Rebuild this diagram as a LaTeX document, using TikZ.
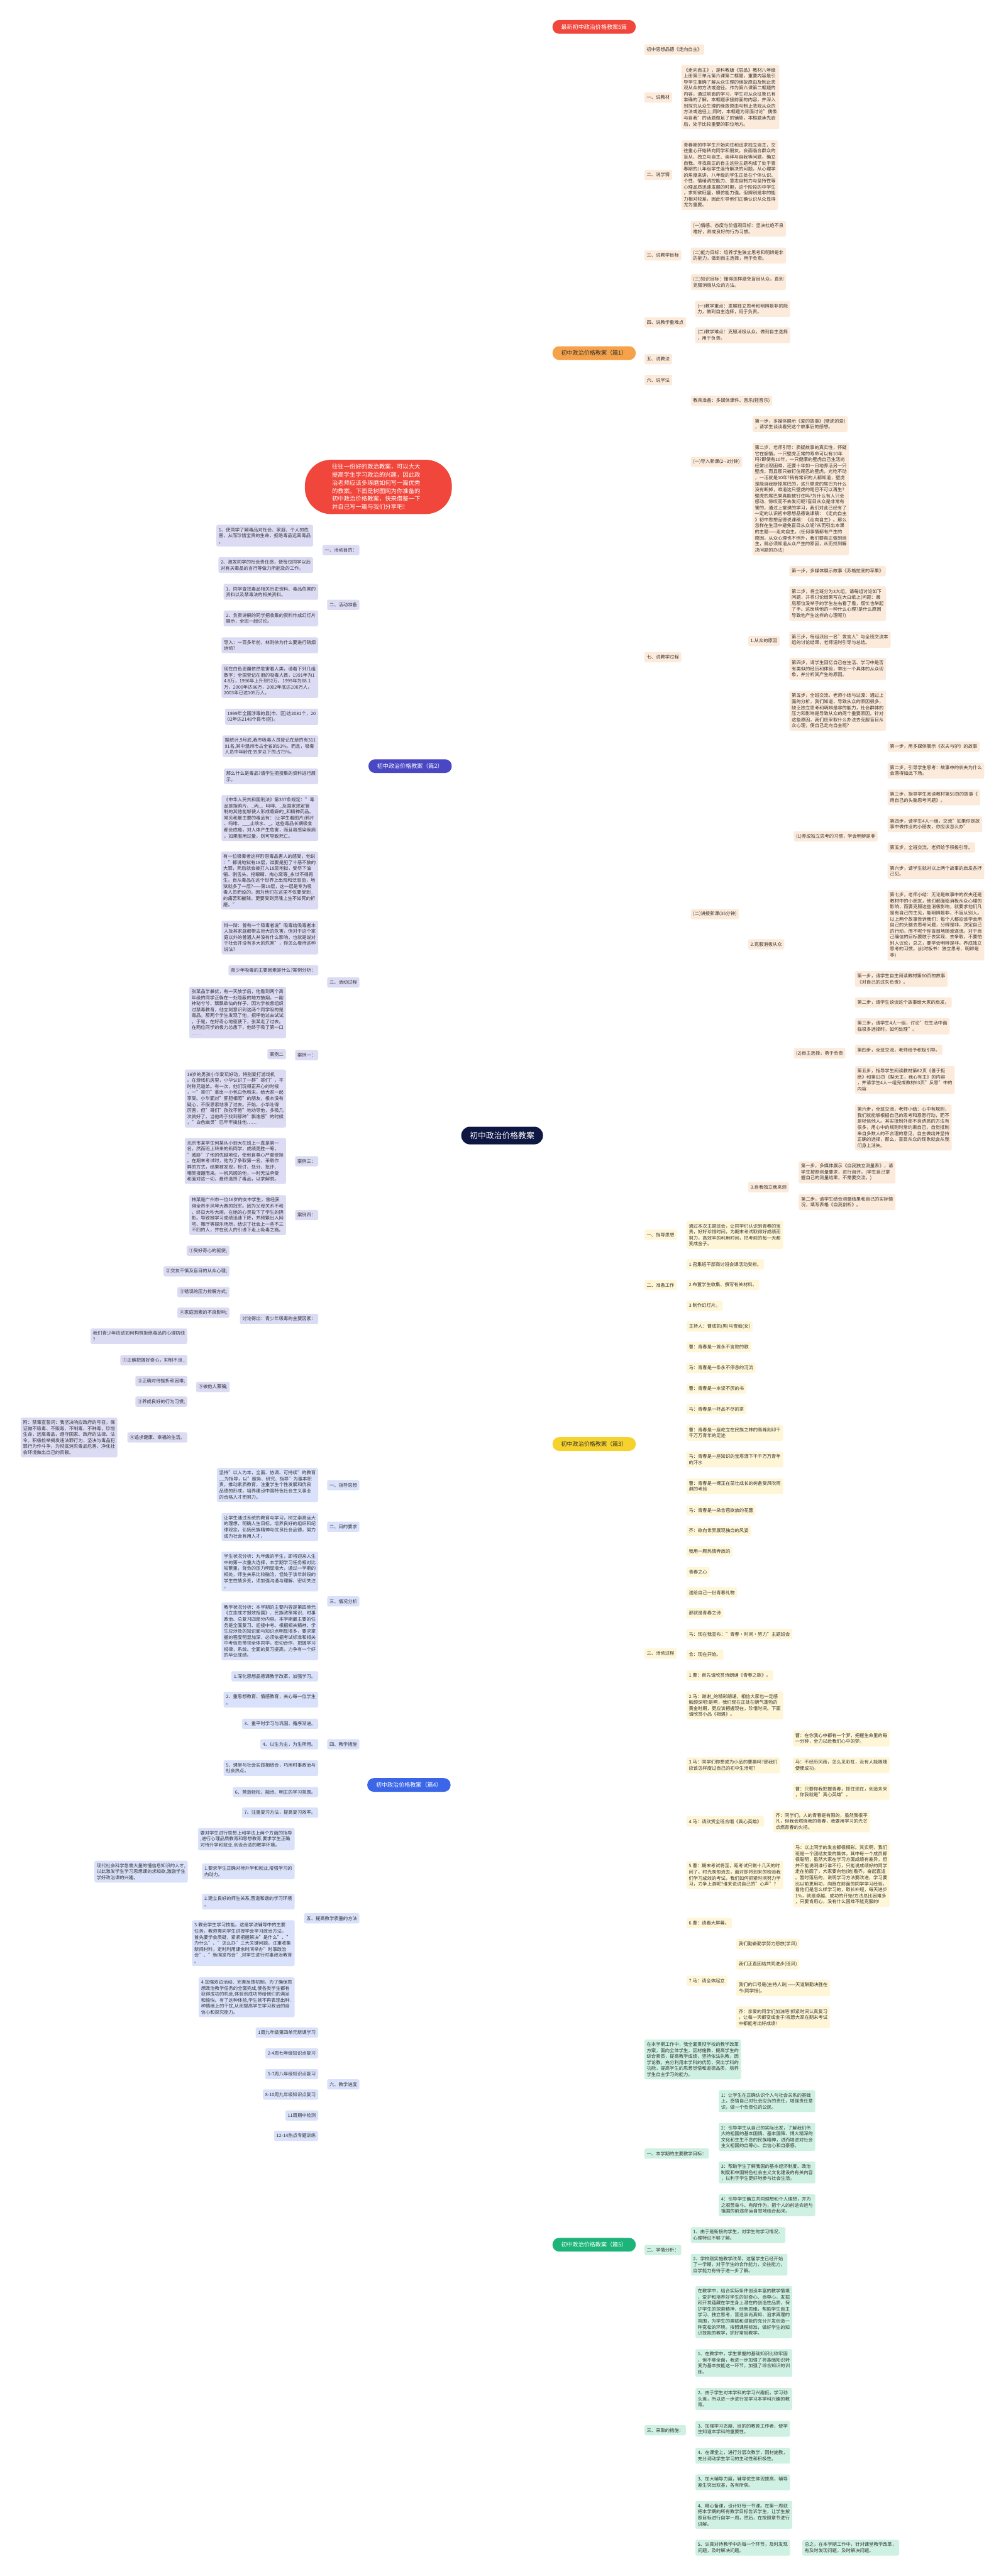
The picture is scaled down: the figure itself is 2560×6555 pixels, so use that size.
\documentclass[tikz,border=0pt]{standalone}
\usepackage{fontspec}
\setmainfont{Noto Sans CJK SC}
\usetikzlibrary{calc}
\pgfdeclarelayer{bg}
\pgfsetlayers{bg,main}
\definecolor{txt}{HTML}{333333}
\definecolor{redR}{HTML}{F0463B}
\definecolor{redL}{HTML}{D9372C}
\definecolor{cenF}{HTML}{0E1642}
\definecolor{orR}{HTML}{F5A24A}
\definecolor{orL}{HTML}{E5A04A}
\definecolor{orF}{HTML}{FCEBDB}
\definecolor{yeR}{HTML}{F6D22C}
\definecolor{yeL}{HTML}{EFCB26}
\definecolor{yeF}{HTML}{FEF6D6}
\definecolor{grR}{HTML}{1DB47A}
\definecolor{grL}{HTML}{179C68}
\definecolor{grF}{HTML}{CFF1E3}
\definecolor{puR}{HTML}{4A47C4}
\definecolor{puL}{HTML}{2B2A86}
\definecolor{puF}{HTML}{DCDBF4}
\definecolor{blR}{HTML}{3B66E8}
\definecolor{blL}{HTML}{2E4FC4}
\definecolor{blF}{HTML}{DAE2FB}
\newcommand\conR[2]{\draw (#1.east) -- ($(#1.east)!0.5!(#1.east -| #2.west)$) |- (#2.west);}
\newcommand\conL[2]{\draw (#1.west) -- ($(#1.west)!0.5!(#1.west -| #2.east)$) |- (#2.east);}
\tikzset{
 nd/.style={font=\fontsize{11.7}{15.3}\selectfont, text=txt, rounded corners=4pt, inner xsep=6pt, inner ysep=7pt, align=left, minimum height=26pt},
 on/.style={nd, fill=orF, anchor=west},
 yn/.style={nd, fill=yeF, anchor=west},
 gn/.style={nd, fill=grF, anchor=west},
 pn/.style={nd, fill=puF, anchor=east},
 bn/.style={nd, fill=blF, anchor=east},
 rootn/.style={font=\fontsize{14.5}{17}\selectfont, rounded corners=17pt, minimum width=212pt, minimum height=35pt, inner sep=3pt},
 cloudn/.style={fill=redR, text=white, font=\fontsize{15}{20.4}\selectfont, align=left, text width=236pt, minimum width=374pt, minimum height=138pt, rounded corners=66pt, inner sep=0pt},
 cen/.style={fill=cenF, text=white, font=\fontsize{20.5}{24}\selectfont, rounded corners=22pt, minimum width=208pt, minimum height=45pt},
 mainline/.style={line width=2pt},
 subline/.style={line width=1.8pt, rounded corners=7pt}
}
\begin{document}
\begin{tikzpicture}[x=1pt,y=-1pt]
\fill[white] (0,0) rectangle (2560,6555);
\useasboundingbox (0,0) rectangle (2560,6555);

% centre, title, intro
\node[cen] (C) at (1278,2889.5) {初中政治价格教案};
\node[rootn, fill=redR, text=white, anchor=west] (T) at (1406,68.5) {最新初中政治价格教案5篇};
\node[cloudn] (Q) at (963,1239) {往往一份好的政治教案，可以大大\\提高学生学习政治的兴趣，因此政\\治老师应该多琢磨如何写一篇优秀\\的教案。下面是树图网为你准备的\\初中政治价格教案，快来借鉴一下\\并自己写一篇与我们分享吧！};

% ---------------- 篇1 ----------------
\node[rootn, fill=orR, text=txt, anchor=west] (R1) at (1406,898.5) {初中政治价格教案（篇1）};
\node[on] (a1) at (1640,126) {初中思想品德《走向自主》};
\node[on] (a2) at (1640,248) {一、说教材};
\node[on] (a3) at (1640,445) {二、说学情};
\node[on] (a4) at (1640,650) {三、说教学目标};
\node[on] (a5) at (1640,820) {四、说教学重难点};
\node[on] (a6) at (1640,914) {五、说教法};
\node[on] (a7) at (1640,967) {六、说学法};
\node[on] (a8) at (1640,1672.5) {七、说教学过程};
\node[on] (a2c) at (1734,247) {《走向自主》，是科教版《思品》教材八年级\\上册第三单元第六课第二框题，重要内容是引\\导学生准确了解从众生理的缘故原由及制止悲\\观从众的方法或途径。作为第六课第二框题的\\内容，通过前面的学习，学生对从众征象已有\\准确的了解，本框题承接前面的内容，并深入\\到探究从众生理的缘故原由与制止悲观从众的\\方法或途径上;同时，本框题为背面讨论"偶像\\与自我"的话题做足了的铺垫，本框题承先启\\后，处于比较重要的职位地方。};
\node[on] (a3c) at (1734,445.5) {青春期的中学生开始向往和追求独立自主，交\\往重心开始转向同学和朋友，会面临合群众的\\盲从、独立与自主、崇拜与自我等问题，确立\\自我、寻找真正的自主这些主题构成了处于青\\春期的八年级学生亟待解决的问题。从心理学\\的角度来讲，八年级的学生正处在个体认识、\\个性、情绪调控能力、意志自制力与坚持性等\\心理品质迅速发展的时期，这个阶段的中学生\\，求知欲旺盛，模仿能力强，但辨别是非的能\\力相对较差，因此引导他们正确认识从众显得\\尤为重要。};
\node[on] (a4c1) at (1758,582) {(一)情感、态度与价值观目标：坚决杜绝不良\\嗜好，养成良好的行为习惯。};
\node[on] (a4c2) at (1758,650) {(二)能力目标：培养学生独立思考和明辨是非\\的能力，做到自主选择，用于负责。};
\node[on] (a4c3) at (1758,718) {(三)知识目标：懂得怎样避免盲目从众，直到\\克服消极从众的方法。};
\node[on] (a5c1) at (1769,786) {(一)教学重点：发展独立思考和明辨是非的能\\力，做到自主选择，用于负责。};
\node[on] (a5c2) at (1769,853) {(二)教学难点：克服消极从众，做到自主选择\\，用于负责。};
\node[on] (a8c1) at (1758,1020) {教具准备：多媒体课件、音乐(轻音乐)};
\node[on] (a8c2) at (1758,1175.5) {(一)导入新课(2-{}-3分钟)};
\node[on] (a8c3) at (1758,2326) {(二)讲授新课(35分钟)};
\node[on] (b1) at (1915,1079) {第一步，多媒体展示《爱的故事》(壁虎的爱)\\，请学生谈谈看完这个故事后的感想。};
\node[on] (b2) at (1915,1270) {第二步，老师引导：质疑故事的真实性，怀疑\\它在煽情。一只壁虎正常的寿命可以有10年\\吗?即使有10年，一只健康的壁虎自己生活尚\\经常出现困难，还要十年如一日地养活另一只\\壁虎，而且那只被钉住尾巴的壁虎，光吃不动\\，一活就是10年?稍有常识的人都知道，壁虎\\是能自我断掉尾巴的，这只壁虎的尾巴为什么\\没有断掉，难道这只壁虎的尾巴不可以再生?\\壁虎的尾巴果真能被钉住吗?为什么有人只会\\感动、惊叹而不去发问呢?盲目从众是非常有\\害的，通过上堂课的学习，我们对此已经有了\\一定的认识初中思想品德说课稿：《走向自主\\》初中思想品德说课稿：《走向自主》。那么\\怎样在生活中避免盲目从众呢?从而引出本课\\的主题——走向自主。(任何事情都有产生的\\原因，从众心理也不例外，我们要真正做到自\\主，就必须知道从众产生的原因，从而找到解\\决问题的办法)};
\node[on] (c1) at (1904,1631) {1.从众的原因};
\node[on] (c2) at (1904,2403) {2.克服消极从众};
\node[on] (c3) at (1904,3021) {3.自我独立我来测};
\node[on] (d1) at (2009,1453.5) {第一步，多媒体展示故事《苏格拉底的苹果》};
\node[on] (d2) at (2009,1536) {第二步，将全班分为3大组，请每组讨论如下\\问题，并将讨论结果写在大白纸上(问题：最\\后那位没举手的学生左右看了看，慌忙也举起\\了手。这反映他的一种什么心理?是什么原因\\导致他产生这样的心理呢?)};
\node[on] (d3) at (2009,1628) {第三步，每组派出一名"发言人"与全班交流本\\组的讨论结果，老师适时引导与总结。};
\node[on] (d4) at (2009,1702) {第四步，请学生回忆自己在生活、学习中是否\\有类似的经历和体验，举出一个具体的从众现\\象，并分析其产生的原因。};
\node[on] (d5) at (2009,1808.5) {第五步，全班交流，老师小结与过渡：通过上\\面的分析，我们知道，导致从众的原因很多，\\缺乏独立思考和明辨是非的能力，社会群体的\\压力和影响是导致从众的两个重要原因。针对\\这些原因，我们应采取什么办法去克服盲目从\\众心理，使自己走向自主呢?};
\node[on] (e1) at (2020,2128) {(1)养成独立思考的习惯，学会明辨是非};
\node[on] (e2) at (2020,2680) {(2)自主选择，勇于负责};
\node[on] (f1) at (2259,1900) {第一步，用多媒体展示《农夫与驴》的故事};
\node[on] (f2) at (2259,1961) {第二步，引导学生思考：故事中的农夫为什么\\会落得如此下场。};
\node[on] (f3) at (2259,2029) {第三步，指导学生阅读教材第58页的故事《\\用自己的头脑思考问题》。};
\node[on] (f4) at (2259,2097) {第四步，请学生4人一组，交流"如果你是故\\事中做作业的小朋友，你应该怎么办"};
\node[on] (f5) at (2259,2156.5) {第五步，全班交流，老师给予积极引导。};
\node[on] (f6) at (2259,2217) {第六步，请学生就对以上两个故事的启发各抒\\己见。};
\node[on] (f7) at (2259,2354.5) {第七步，老师小结：无论是故事中的农夫还是\\教材中的小朋友，他们都面临消极从众心理的\\影响，而要克服这些消极影响，就要求他们凡\\是有自己的主见，能明辨是非，不盲从别人。\\以上两个故事告诉我们：每个人都应该学会用\\自己的头脑去思考问题，分辨是非，决定自己\\的行动，而不呢个你盲目地随波逐流。对于自\\己确信的目标要敢于去实现、去争取，不要怕\\别人议论，总之，要学会明辨是非，养成独立\\思考的习惯。(此时板书：独立思考、明辨是\\非)};
\node[on] (g1) at (2176,2491) {第一步，请学生自主阅读教材第60页的故事\\《对自己的过失负责》。};
\node[on] (g2) at (2176,2551) {第二步，请学生谈谈这个故事给大家的启发。};
\node[on] (g3) at (2176,2611.5) {第三步，请学生4人一组，讨论"在生活中面\\临很多选择时，如何处理"。};
\node[on] (g4) at (2176,2671.5) {第四步，全班交流，老师给予积极引导。};
\node[on] (g5) at (2176,2748) {第五步，指导学生阅读教材第62页《善于拒\\绝》和第63页《梨无主，我心有主》的内容\\，并请学生4人一组完成教材63页"反思"中的\\内容};
\node[on] (g6) at (2176,2869) {第六步，全班交流，老师小结：心中有规则，\\我们就能够根据自己的思考和意愿行动，而不\\是轻信他人。其实抵制外部不良诱惑的方法有\\很多，用心中的规则时常约束自己，自觉抵制\\来自多数人的不合理的意见，自主做出并坚持\\正确的选择，那么，盲目从众的现象就会从我\\们身上消失。};
\node[on] (h1) at (2033,2983) {第一步，多媒体展示《自我独立测量表》，请\\学生按照测量要求，进行自评。(学生自己掌\\握自己的测量结果，不需要交流。)};
\node[on] (h2) at (2033,3059) {第二步，请学生结合测量结果和自己的实际情\\况，填写表格《自我剖析》。};

% ---------------- 篇3 ----------------
\node[rootn, fill=yeR, text=txt, anchor=west] (R3) at (1406,3674.5) {初中政治价格教案（篇3）};
\node[yn] (y1) at (1640,3142) {一、指导思想};
\node[yn] (y2) at (1640,3270) {二、准备工作};
\node[yn] (y3) at (1640,4207.5) {三、活动过程};
\node[yn] (y1c) at (1747,3142.5) {通过本次主题班会，让同学们认识到青春的宝\\贵，好好珍惜时间，为期末考试取得好成绩而\\努力，高效率的利用时间，把考前的每一天都\\变成金子。};
\node[yn] (y2a) at (1747,3217.5) {1.召集班干部商讨班会课活动安排。};
\node[yn] (y2b) at (1747,3269.5) {2.布置学生收集、撰写有关材料。};
\node[yn] (y2c) at (1747,3322.5) {3.制作幻灯片。};
\node[yn] (k1) at (1747,3375.5) {主持人：曹成凯(男)马雪茹(女)};
\node[yn] (k2) at (1747,3428) {曹：青春是一首永不言败的歌};
\node[yn] (k3) at (1747,3480.5) {马：青春是一条永不停息的河流};
\node[yn] (k4) at (1747,3533) {曹：青春是一本读不厌的书};
\node[yn] (k5) at (1747,3586) {马：青春是一杯品不尽的茶};
\node[yn] (k6) at (1747,3646) {曹：青春是一座屹立在民族之林的高峰刻印千\\千万万青年的足迹};
\node[yn] (k7) at (1747,3714) {马：青春是一座知识的宝塔洒下千千万万青年\\的汗水};
\node[yn] (k8) at (1747,3782) {曹：青春是一棵正在茁壮成长的树备受风吹雨\\淋的考验};
\node[yn] (k9) at (1747,3843) {马：青春是一朵含苞欲放的花蕾};
\node[yn] (k10) at (1747,3895) {齐：欲向世界展现独自的风姿};
\node[yn] (k11) at (1747,3947.5) {我用一颗热情奔放的};
\node[yn] (k12) at (1747,4000.5) {青春之心};
\node[yn] (k13) at (1747,4052.5) {送给自己一份青春礼物};
\node[yn] (k14) at (1747,4105) {那就是青春之诗};
\node[yn] (k15) at (1747,4158) {马：现在我宣布："青春·时间·努力"主题班会};
\node[yn] (k16) at (1747,4210.5) {合：现在开始。};
\node[yn] (k17) at (1747,4263.5) {1.曹：首先请欣赏诗朗诵《青春之歌》。};
\node[yn] (k18) at (1747,4339.5) {2.马：谢谢\_的精彩朗诵，相信大家也一定感\\触颇深吧!是啊，我们现在正处在朝气蓬勃的\\黄金时期，更应该把握现在，珍惜时间。下面\\请欣赏小品《相遇》。};
\node[yn] (k19) at (1747,4492) {3.马：同学们你想成为小品的曹晨吗?那我们\\应该怎样度过自己的初中生活呢?};
\node[yn] (k20) at (1747,4635) {4.马：请欣赏全班合唱《真心英雄》};
\node[yn] (k21) at (1747,4771.5) {5.曹：期末考试将至，距考试只剩十几天的时\\间了。时光匆匆流去，面对即将到来的检验我\\们学习成效的考试，我们如何抓紧时间努力学\\习，力争上游呢?谁来说说自己的"心声"?};
\node[yn] (k22) at (1747,4893.5) {6.曹：请看大屏幕。};
\node[yn] (k23) at (1747,5040.5) {7.马：请全体起立};
\node[yn] (m1) at (2018,4423.5) {曹：在你我心中都有一个梦，把握生命里的每\\一分钟，全力以赴我们心中的梦。};
\node[yn] (m2) at (2018,4492) {马：不经历风雨，怎么见彩虹，没有人能随随\\便便成功。};
\node[yn] (m3) at (2018,4559.5) {曹：只要你我把握青春，抓住现在，创造未来\\，你我就是"真心英雄"。};
\node[yn] (m4) at (1968,4634.5) {齐：同学们，人的青春是有限的，虽然我很平\\凡，但我会燃烧我的青春，我要用学习的光芒\\点燃青春的火把。};
\node[yn] (m5) at (2018,4770.5) {马：以上同学的发言都很精彩。其实啊，我们\\班是一个团结友爱的集体，其中每一个成员都\\很聪明，虽然大家在学习方面成绩有差异，但\\并不能说明谁行谁不行，只能说成绩好的同学\\走在前面了，大家要向他(她)看齐，奋起直追\\。暂时落后的，说明学习方法要改进，学习要\\比以前更用功，向跑在前面的同学学习经验，\\看他们是怎么样学习的，取长补短，每天进步\\1\%，就是卓越、成功的开始!方法总比困难多\\，只要肯用心，没有什么困难不能克服的!};
\node[yn] (n1) at (1874,4946.5) {我们勤奋勤学努力怒放(学风)};
\node[yn] (n2) at (1874,4998.5) {我们正直团结共同进步(班风)};
\node[yn] (n3) at (1874,5058.5) {我们的口号是(主持人说)——天道酬勤决胜在\\今(同学接)。};
\node[yn] (n4) at (1874,5133.5) {齐：亲爱的同学们加油吧!抓紧时间认真复习\\，让每一天都变成金子!祝愿大家在期末考试\\中都能考出好成绩!};

% ---------------- 篇5 ----------------
\node[rootn, fill=grR, text=white, anchor=west] (R5) at (1406,5712) {初中政治价格教案（篇5）};
\node[gn] (z0) at (1640,5240.5) {在本学期工作中，我全面贯彻学校的教学改革\\方案，面向全体学生，因材施教，提高学生的\\综合素质，提高教学成绩，坚持依法执教，因\\学论教，充分利用本学科的优势，突出学科的\\功能，提高学生的思想觉悟和道德品质，培养\\学生自主学习的能力。};
\node[gn] (z1) at (1640,5480) {一、本学期的主要教学目标：};
\node[gn] (z2) at (1640,5725.5) {二、学情分析：};
\node[gn] (z3) at (1640,6184) {三、采取的措施：};
\node[gn] (z1a) at (1829,5346.5) {1：让学生在正确认识个人与社会关系的基础\\上，感悟自己对社会应负的责任，增强责任意\\识，做一个负责任的公民。};
\node[gn] (z1b) at (1829,5437.5) {2：引导学生从自己的实际出发，了解我们伟\\大的祖国的基本国情、基本国策、博大精深的\\文化和生生不息的民族精神，进而增进对社会\\主义祖国的自尊心、自信心和自豪感。};
\node[gn] (z1c) at (1829,5528) {3：帮助学生了解我国的基本经济制度、政治\\制度和中国特色社会主义文化建设的有关内容\\，以利于学生更好地参与社会生活。};
\node[gn] (z1d) at (1829,5611.5) {4：引导学生确立共同理想和个人理想，并为\\之艰苦奋斗、有所作为，把个人的前途命运与\\祖国的前途命运自觉地结合起来。};
\node[gn] (z2a) at (1758,5687.5) {1、由于是新接的学生，对学生的学习情况、\\心理特征不够了解。};
\node[gn] (z2b) at (1758,5763) {2、学校刚实施教学改革，这届学生已经开始\\了一学期，对于学生的合作能力，交往能力，\\自学能力有待于进一步了解。};
\node[gn] (z3a) at (1770,5883.5) {在教学中，结合实际条件创设丰富的教学情境\\，爱护和培养好学生的好奇心、自尊心，发掘\\和开发蕴藏在学生身上潜在的创造性品质，保\\护学生的探索精神，创新思维，帮助学生自主\\学习、独立思考，营造崇尚真知、追求真理的\\氛围，为学生的禀赋和潜能的充分开发创造一\\种宽松的环境。按照课程标准，做好学生的知\\识技能的教学，抓好常规教学。};
\node[gn] (z3b) at (1770,6013) {1、在教学中，学生掌握的基础知识比较牢固\\，但不够全面，我进一步加强了将基础知识转\\变为基本技能这一环节，加强了综合知识的训\\练。};
\node[gn] (z3c) at (1770,6104.5) {2、由于学生对本学科的学习兴趣低，学习劲\\头差，所以进一步进行发学习本学科兴趣的教\\育。};
\node[gn] (z3d) at (1770,6180.5) {3、加强学习态度、目的的教育工作者，使学\\生知道本学科的重要性。};
\node[gn] (z3e) at (1770,6249) {4、在课堂上，进行分层次教学，因材施教，\\充分调动学生学习的主动性和积极性。};
\node[gn] (z3f) at (1770,6316.5) {3、加大辅导力度，辅导优生体现拔高，辅导\\差生突出双基，各有所获。};
\node[gn] (z3g) at (1770,6399.5) {4、精心备课，设计好每一节课。在第一周就\\把本学期的所有教学目标告诉学生，让学生按\\照目标进行自学一周，然后，在按照章节进行\\讲解。};
\node[gn] (z3h) at (1770,6483) {5、认真对待教学中的每一个环节，及时发现\\问题，及时解决问题。};
\node[gn] (z3i) at (2042,6483) {总之，在本学期工作中，针对课堂教学改革，\\有及时发现问题，及时解决问题。};

% ---------------- 篇2 ----------------
\node[rootn, fill=puR, text=white, anchor=east] (R2) at (1150,1949.5) {初中政治价格教案（篇2）};
\node[pn] (p1) at (915,1400) {一、活动目的：};
\node[pn] (p2) at (915,1539) {二、活动准备};
\node[pn] (p3) at (915,2500) {三、活动过程};
\node[pn] (p1a) at (797,1363) {1、使同学了解毒品对社会、家庭、个人的危\\害，从而珍惜宝贵的生命，拒绝毒品远离毒品\\。};
\node[pn] (p1b) at (797,1438) {2、激发同学的社会责任感，使每位同学以后\\对有关毒品的言行等做力所能及的工作。};
\node[pn] (p2a) at (810,1506) {1、同学查找毒品相关历史资料、毒品危害的\\资料以及禁毒法的相关资料。};
\node[pn] (p2b) at (810,1573.5) {2、负责讲解的同学把收集的资料作成幻灯片\\展示，全班一起讨论。};
\node[pn] (q1) at (810,1642) {导入：一百多年前，林则徐为什么要进行硝烟\\运动?};
\node[pn] (q2) at (810,1733) {现在白色恶魔依然危害着人类，请看下列几组\\数字：全国登记在册的吸毒人数，1991年为1\\4.8万，1996年上升到52万，1999年为68.1\\万，2000年达86万，2002年底达100万人，\\2003年已达105万人。};
\node[pn] (q3) at (810,1824) {1999年全国涉毒的县(市、区)达2081个，20\\02年达2148个县市(区)。};
\node[pn] (q4) at (810,1899) {据统计,9月底,我市吸毒人员登记在册的有311\\91名,其中温州市占全省的53\%。而且，吸毒\\人员中年龄在35岁以下的占75\%。};
\node[pn] (q5) at (810,1975.5) {那么什么是毒品?请学生把搜集的资料进行展\\示。};
\node[pn] (q6) at (810,2081.5) {《中华人民共和国刑法》第357条规定："毒\\品是指鸦片、\_丙\_、吗啡、\_及国家规定管\\制的其他能够使人形成瘾癖的\_和精神药品。\\常见和最主要的毒品有：(让学生看图片)鸦片\\、吗啡、\_\_\_止咳水、\_。这些毒品长期吸食\\都会成瘾，对人体产生危害，而且易感染疾病\\。如果服用过量，则可导致死亡。};
\node[pn] (q7) at (810,2240.5) {有一位吸毒者这样形容毒品害人的感受，他说\\："都说地狱有18层，谁要是犯了十恶不赦的\\大罪，死后就会被打入18层地狱，受尽下油\\锅、割舌头、挖眼睛、掏心窝等\_永世不得再\\生。自从毒品在这个世界上出现和泛滥后，地\\狱就多了一层?——第19层，这一层是专为吸\\毒人员而设的。因为他们在这里不仅要受到\_\\的痛苦和摧残，更要受到灵魂上生不如死的折\\磨。"};
\node[pn] (q8) at (810,2385.5) {辩一辩：曾有一个吸毒者说"吸毒给吸毒者本\\人及其家庭都带去巨大的危害，但对于这个家\\庭以外的普通人并没有什么影响，也就是说对\\于社会并没有多大的危害"，你怎么看待这种\\说法?};
\node[pn] (q9) at (810,2469) {青少年吸毒的主要因素是什么?案例分析：};
\node[pn] (q10) at (810,2685) {案例一：};
\node[pn] (q11) at (810,2955) {案例三：};
\node[pn] (q12) at (810,3092) {案例四：};
\node[pn] (q13) at (810,3356) {讨论得出：青少年吸毒的主要因素：};
\node[pn] (r1) at (728,2576.5) {张某品学兼优，有一天放学后，他看到两个高\\年级的同学正躲在一处隐蔽的地方抽烟，一副\\神秘兮兮、飘飘欲仙的样子。因为学校曾组织\\过禁毒教育，他立刻意识到这两个同学吸的是\\毒品。那两个学生发现了他，招呼他过去试试\\。于是，在好奇心地驱使下，张某走了过去。\\在两位同学的极力怂恿下，他终于吸了第一口\\……};
\node[pn] (r2) at (728,2682.5) {案例二};
\node[pn] (r3) at (728,2795.5) {16岁的男孩小华爱玩好动，特别爱打游戏机\\。在游戏机房里，小华认识了一群"哥们"，平\\时称兄道弟。有一次，他们玩得正开心的时候\\，一"哥们"拿出一小包白色粉末，给大家一起\\享受。小华面对"肝胆相照"的朋友，根本没有\\疑心，不假思索地凑了过去。开始，小华吐得\\厉害，但"哥们"孜孜不倦"地劝导他，多吸几\\次就好了。当他终于找到那种"飘逸感"的时候\\，"白色幽灵"已牢牢擒住他……};
\node[pn] (r4) at (728,2954.5) {北京市某学生何某从小到大在班上一直是第一\\名。然而班上转来的新同学，成绩更胜一筹，\\"威胁"了他的优越地位，使他自尊心严重受挫\\。在期末考试时，他为了争取第一名，采取作\\弊的方式，结果被发现，检讨、处分、批评、\\嘲笑接踵而来。一帆风顺的他，一时无法承受\\和面对这一切，最终选择了毒品，以求解脱。};
\node[pn] (r5) at (728,3092) {林某是广州市一位16岁的女中学生，曾经获\\得全市手风琴大赛的冠军。因为父母关系不和\\，终日大吵大闹，在她的心灵投下了学生的阴\\影。导致她学习成绩迅速下降，并频繁出入网\\吧、舞厅等娱乐场所，结识了社会上一些不三\\不四的人，并在别人的引诱下走上吸毒之路。};
\node[pn] (s1) at (584,3182.5) {①受好奇心的驱使;};
\node[pn] (s2) at (584,3235) {②交友不慎及盲目的从众心理;};
\node[pn] (s3) at (584,3288) {③错误的压力排解方式;};
\node[pn] (s4) at (584,3340.5) {④家庭因素的不良影响;};
\node[pn] (s5) at (585,3529.5) {⑤被他人蒙骗;};
\node[pn] (t1) at (477,3400) {我们青少年应该如何构筑拒绝毒品的心理防线\\?};
\node[pn] (t2) at (477,3461.5) {①正确把握好奇心，抑制不良\_};
\node[pn] (t3) at (477,3514.5) {②正确对待挫折和困难;};
\node[pn] (t4) at (477,3566.5) {③养成良好的行为习惯;};
\node[pn] (t5) at (477,3657.5) {④追求健康、幸福的生活。};
\node[pn] (t6) at (299,3658) {附：禁毒宣誓词：我坚决响应政府的号召，保\\证做不吸毒、不贩毒、不制毒、不种毒，珍惜\\生命，远离毒品，遵守国家、政府的法律、法\\令。积极检举揭发违法罪行为，坚决与毒品犯\\罪行为作斗争，为彻底消灭毒品危害，净化社\\会环境做出自己的贡献。};

% ---------------- 篇4 ----------------
\node[rootn, fill=blR, text=white, anchor=east] (R4) at (1147,4542) {初中政治价格教案（篇4）};
\node[bn] (u1) at (915,3779) {一、指导思想};
\node[bn] (u2) at (915,3885) {二、目的要求};
\node[bn] (u3) at (915,4075) {三、情况分析};
\node[bn] (u4) at (915,4438.5) {四、教学措施};
\node[bn] (u5) at (915,4881.5) {五、提高教学质量的方法};
\node[bn] (u6) at (915,5304) {六、教学进度};
\node[bn] (u1a) at (810,3778.5) {坚持"以人为本，全面、协调、可持续"的教育\\\_\_为指导，以"服务、研究、指导"为基本职\\责，推动素质教育，注重学生个性发展和优良\\品德的形成，培养建设中国特色社会主义事业\\的合格人才而努力。};
\node[bn] (u2a) at (810,3885.5) {让学生通过系统的教育与学习，树立崇高远大\\的理想，明确人生目标，培养良好的组织和纪\\律观念，弘扬民族精神与优良社会品德，努力\\成为社会有用人才。};
\node[bn] (u3a) at (810,3999) {学生状况分析：九年级的学生，即将迎来人生\\中的第一次重大选择，本学期学习任务相对比\\较繁重，背负的压力明显增大，通过一学期的\\相处，师生关系比较融洽，但处于该年龄段的\\学生性情多变，须加强沟通与理解、密切关注\\。};
\node[bn] (u3b) at (810,4151) {教学状况分析：本学期的主要内容是第四单元\\《立志成才报效祖国》、民族政策常识、时事\\政治、总复习四部分内容。本学期最主要的任\\务是全面复习、迎接中考。根据相关精神，学\\生应涉及的知识面与知识点明显增多，要求掌\\握的程度明显加深，必须依据考试标准和相关\\中考信息带领全体同学，密切合作，把握学习\\规律，系统、全面的复习提高，力争有一个好\\的毕业成绩。};
\node[bn] (v1) at (810,4265.5) {1.深化思想品德课教学改革，加强学习。};
\node[bn] (v2) at (810,4325) {2、重思想教育、情感教育，关心每一位学生\\。};
\node[bn] (v3) at (810,4386.5) {3、重平时学习与巩固，循序渐进。};
\node[bn] (v4) at (810,4438.5) {4、以生为主，为生所用。};
\node[bn] (v5) at (810,4499) {5、课堂与社会实践相结合，巧用时事政治与\\社会热点。};
\node[bn] (v6) at (810,4560) {6、营造轻松、融洽、明主的学习氛围。};
\node[bn] (v7) at (810,4612.5) {7、注重复习方法，提高复习效率。};
\node[bn] (w1) at (750,4680) {要对学生进行思想上和学法上两个方面的指导\\,进行心理品质教育和思想教育,要求学生正确\\对待升学和就业,创设合适的教学环境。};
\node[bn] (w2) at (750,4762) {1.要求学生正确对待升学和就业,增强学习的\\内动力。};
\node[bn] (w2a) at (478,4762.5) {现代社会科学急需大量的懂信息知识的人才,\\以此激发学生学习思想课的求知欲,激励学生\\学好政治课的兴趣。};
\node[bn] (w3) at (750,4839) {2.建立良好的师生关系,营造和谐的学习环境\\。};
\node[bn] (w4) at (750,4944.5) {3.教会学生学习技能。这是学法辅导中的主要\\任务。教师需向学生讲授学会学习政治方法。\\首先要学会质疑，紧紧把握解决"是什么"、"\\为什么"、"怎么办"三大关键问题。注重收集\\新闻材料，定时利用课余时间举办"时事政治\\会"、"新闻发布会",对学生进行时事政治教育\\。};
\node[bn] (w5) at (750,5082) {4.加强双边活动、完善反馈机制。为了确保思\\想政治教学任务的全面完成,使各类学生都有\\获得成功的机会,体验到成功带给他们的满足\\和愉快。有了这种体验,学生就不再表现出种.\\种情绪上的干扰,从而提高学生学习政治的自\\信心和探究能力。};
\node[bn] (x1) at (810,5172) {1周九年级第四单元新课学习};
\node[bn] (x2) at (810,5225) {2-4周七年级知识点复习};
\node[bn] (x3) at (810,5278) {5-7周八年级知识点复习};
\node[bn] (x4) at (810,5330) {8-10周九年级知识点复习};
\node[bn] (x5) at (810,5383) {11周期中检测};
\node[bn] (x6) at (810,5435) {12-14热点专题训练};

% ---------------- connectors ----------------
\begin{pgfonlayer}{bg}
\draw[mainline, redL] (C.center) .. controls +(0,-1975) and +(-120,0) .. (T.west);
\draw[mainline, redL] (C.center) .. controls +(0,-1156) and +(100,0) .. (Q.east);
\draw[mainline, orL] (C.center) .. controls +(0,-1394) and +(-120,0) .. (R1.west);
\draw[mainline, yeL] (C.center) .. controls +(0,550) and +(-120,0) .. (R3.west);
\draw[mainline, grL] (C.center) .. controls +(0,1975) and +(-120,0) .. (R5.west);
\draw[mainline, puL] (C.center) .. controls +(0,-658) and +(100,0) .. (R2.east);
\draw[mainline, blL] (C.center) .. controls +(0,1156) and +(100,0) .. (R4.east);
\begin{scope}[subline, orL]
\foreach \nn in {a1,a2,a3,a4,a5,a6,a7,a8} {\conR{R1}{\nn}}
\conR{a2}{a2c} \conR{a3}{a3c}
\foreach \nn in {a4c1,a4c2,a4c3} {\conR{a4}{\nn}}
\foreach \nn in {a5c1,a5c2} {\conR{a5}{\nn}}
\foreach \nn in {a8c1,a8c2,a8c3} {\conR{a8}{\nn}}
\foreach \nn in {b1,b2} {\conR{a8c2}{\nn}}
\foreach \nn in {c1,c2,c3} {\conR{a8c3}{\nn}}
\foreach \nn in {d1,d2,d3,d4,d5} {\conR{c1}{\nn}}
\foreach \nn in {e1,e2} {\conR{c2}{\nn}}
\foreach \nn in {f1,f2,f3,f4,f5,f6,f7} {\conR{e1}{\nn}}
\foreach \nn in {g1,g2,g3,g4,g5,g6} {\conR{e2}{\nn}}
\foreach \nn in {h1,h2} {\conR{c3}{\nn}}
\end{scope}
\begin{scope}[subline, yeL]
\foreach \nn in {y1,y2,y3} {\conR{R3}{\nn}}
\conR{y1}{y1c}
\foreach \nn in {y2a,y2b,y2c} {\conR{y2}{\nn}}
\foreach \nn in {k1,k2,k3,k4,k5,k6,k7,k8,k9,k10,k11,k12,k13,k14,k15,k16,k17,k18,k19,k20,k21,k22,k23} {\conR{y3}{\nn}}
\foreach \nn in {m1,m2,m3} {\conR{k19}{\nn}}
\conR{k20}{m4} \conR{k21}{m5}
\foreach \nn in {n1,n2,n3,n4} {\conR{k23}{\nn}}
\end{scope}
\begin{scope}[subline, grL]
\foreach \nn in {z0,z1,z2,z3} {\conR{R5}{\nn}}
\foreach \nn in {z1a,z1b,z1c,z1d} {\conR{z1}{\nn}}
\foreach \nn in {z2a,z2b} {\conR{z2}{\nn}}
\foreach \nn in {z3a,z3b,z3c,z3d,z3e,z3f,z3g,z3h} {\conR{z3}{\nn}}
\conR{z3h}{z3i}
\end{scope}
\begin{scope}[subline, puL]
\foreach \nn in {p1,p2,p3} {\conL{R2}{\nn}}
\foreach \nn in {p1a,p1b} {\conL{p1}{\nn}}
\foreach \nn in {p2a,p2b} {\conL{p2}{\nn}}
\foreach \nn in {q1,q2,q3,q4,q5,q6,q7,q8,q9,q10,q11,q12,q13} {\conL{p3}{\nn}}
\foreach \nn in {r1,r2,r3} {\conL{q10}{\nn}}
\conL{q11}{r4} \conL{q12}{r5}
\foreach \nn in {s1,s2,s3,s4,s5} {\conL{q13}{\nn}}
\foreach \nn in {t1,t2,t3,t4,t5} {\conL{s5}{\nn}}
\conL{t5}{t6}
\end{scope}
\begin{scope}[subline, blL]
\foreach \nn in {u1,u2,u3,u4,u5,u6} {\conL{R4}{\nn}}
\conL{u1}{u1a} \conL{u2}{u2a}
\foreach \nn in {u3a,u3b} {\conL{u3}{\nn}}
\foreach \nn in {v1,v2,v3,v4,v5,v6,v7} {\conL{u4}{\nn}}
\foreach \nn in {w1,w2,w3,w4,w5} {\conL{u5}{\nn}}
\conL{w2}{w2a}
\foreach \nn in {x1,x2,x3,x4,x5,x6} {\conL{u6}{\nn}}
\end{scope}
\end{pgfonlayer}
\end{tikzpicture}
\end{document}
